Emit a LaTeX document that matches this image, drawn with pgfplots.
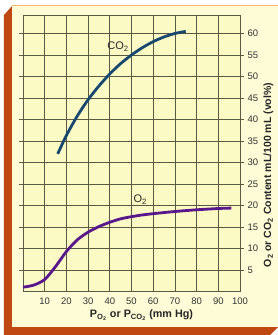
\documentclass[border=0pt]{standalone}
\usepackage{pgfplots}
\pgfplotsset{compat=1.18}
\usepackage{fontspec}
\setmainfont{Liberation Sans}
\definecolor{panel}{RGB}{254,252,214}
\definecolor{plotbg}{RGB}{252,250,196}
\definecolor{frameor}{RGB}{192,72,18}
\definecolor{gridc}{RGB}{90,90,66}
\definecolor{co2c}{RGB}{24,72,112}
\definecolor{o2c}{RGB}{88,24,140}
\begin{document}
\begin{tikzpicture}[x=1pt,y=1pt]
\useasboundingbox (-23,-43.5) rectangle (255,291.5);
\fill[white] (-23,-43.5) rectangle (255,291.5);
\fill[frameor] (-19,276.5) -- (-11,285.5) -- (-11,-35.5) -- (255,-35.5) -- (247,-43.5) -- (-19,-43.5) -- cycle;
\fill[panel] (-11,-35.5) rectangle (255,285.5);
\draw[orange!55, line width=1pt] (-11,285.5) -- (255,285.5);
\begin{axis}[
  at={(0pt,0pt)}, anchor=south west,
  scale only axis, width=217pt, height=276.5pt,
  xmin=0, xmax=100, ymin=0, ymax=64.3,
  axis background/.style={fill=plotbg},
  grid=major, major grid style={gridc, line width=0.8pt},
  axis line style={gridc, line width=0.8pt},
  xtick={10,20,...,100}, ytick={5,10,...,60},
  yticklabel pos=right,
  tick align=outside, major tick length=4pt,
  xtick style={draw=none}, ytick style={gridc, line width=0.8pt},
  ticklabel style={font=\fontsize{9.5}{10}\selectfont, text=black!80},
  xticklabel style={yshift=1pt},
  /pgf/number format/assume math mode=true,
]
\addplot[co2c, line width=2.8pt, smooth] coordinates {
(16,32) (20,36.3) (25,40.8) (30,44.6) (35,47.8) (40,50.6) (45,53) (50,55) (55,56.7) (60,58.1) (65,59.2) (70,60) (75,60.5)};
\addplot[o2c, line width=2.8pt, smooth] coordinates {
(0,1) (5,1.5) (10,2.8) (15,5.8) (20,9.3) (25,12) (30,13.8) (35,15.1) (40,16.1) (45,16.9) (50,17.4) (55,17.8) (60,18.1) (70,18.6) (80,19) (90,19.3) (96,19.4)};
\node[font=\fontsize{11}{13}\selectfont, text=black!85] at (axis cs:43.8,56.9) {CO\textsubscript{2}};
\node[font=\fontsize{11}{13}\selectfont, text=black!85] at (axis cs:54,21.3) {O\textsubscript{2}};
\end{axis}
\node[font=\bfseries\fontsize{10.5}{12}\selectfont, text=black!85, rotate=90] at (245.5,116.5) {O\textsubscript{2} or CO\textsubscript{2} Content mL/100 mL (vol\%)};
\node[font=\bfseries\fontsize{10.8}{12}\selectfont, text=black!85] at (118.5,-23.5) {P\textsubscript{O\textsubscript{2}} or P\textsubscript{CO\textsubscript{2}} (mm Hg)};
\end{tikzpicture}
\end{document}
